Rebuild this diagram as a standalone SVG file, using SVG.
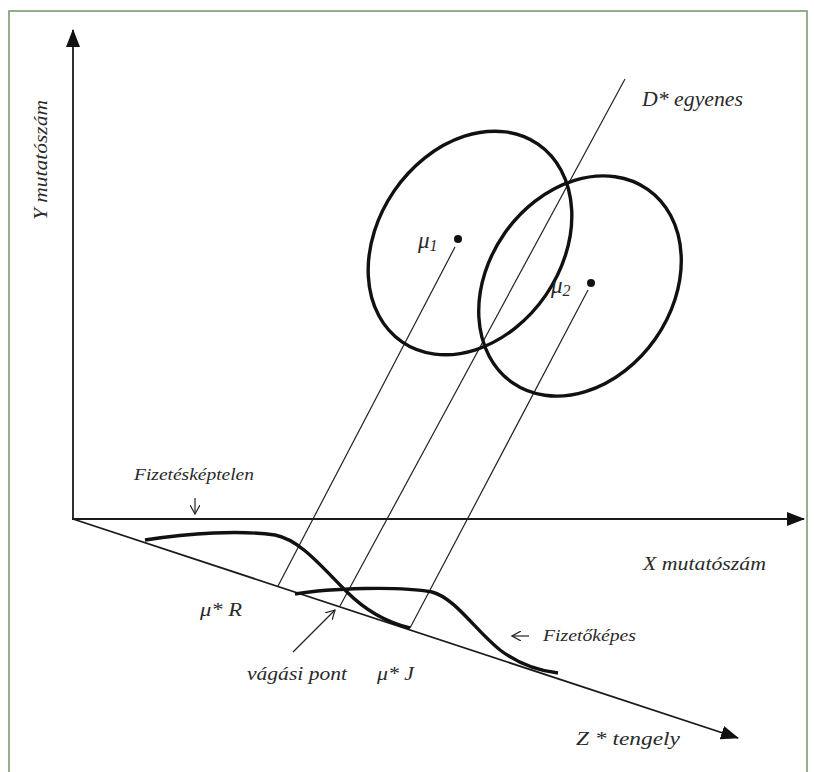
<svg xmlns="http://www.w3.org/2000/svg" width="814" height="772" viewBox="0 0 814 772">
<style>
.t{font-family:"Liberation Serif","Times New Roman",serif;font-style:italic;fill:#2a2a2a}
.thin{stroke:#222;stroke-width:1.2;fill:none}
.axis{stroke:#1a1a1a;stroke-width:1.8;fill:none}
.thick{stroke:#111;stroke-width:3.4;fill:none}
</style>
<defs>
<marker id="ah" markerWidth="18" markerHeight="14" refX="17" refY="7" orient="auto" markerUnits="userSpaceOnUse">
<path d="M0,0 L18,7 L0,14 Z" fill="#111"/>
</marker>
<marker id="oh" markerWidth="10" markerHeight="10" refX="9" refY="5" orient="auto" markerUnits="userSpaceOnUse">
<path d="M0,0 L9,5 L0,10" fill="none" stroke="#222" stroke-width="1.2"/>
</marker>
</defs>
<rect x="9" y="11" width="798" height="780" fill="#fff" stroke="#7d9a6e" stroke-width="1.6"/>

<g id="axes">
<line class="axis" x1="73" y1="519" x2="73" y2="30" marker-end="url(#ah)"/>
<line class="axis" x1="72" y1="519" x2="804" y2="519" marker-end="url(#ah)"/>
<line class="axis" x1="73" y1="519" x2="738" y2="738" marker-end="url(#ah)"/>
</g>

<g id="connectors">
<line class="thin" x1="625" y1="79" x2="340" y2="606"/>
<line class="thin" x1="455" y1="247" x2="278" y2="586"/>
<line class="thin" x1="588" y1="290" x2="410" y2="628"/>
<line class="thin" x1="293" y1="652" x2="335" y2="610" marker-end="url(#oh)"/>
<line class="thin" x1="195" y1="498" x2="195" y2="514" marker-end="url(#oh)"/>
<line class="thin" x1="529" y1="636" x2="512" y2="636" marker-end="url(#oh)"/>
</g>

<g id="ellipse1">
<ellipse class="thick" cx="470" cy="243" rx="120" ry="92" transform="rotate(-55.5 470 243)"/>
<circle cx="458" cy="239" r="4" fill="#111"/>
<text class="t" x="418" y="248" font-size="23">μ<tspan font-size="16" dy="3">1</tspan></text>
</g>

<g id="ellipse2">
<ellipse class="thick" cx="580" cy="286" rx="118" ry="92" transform="rotate(-55 580 286)"/>
<circle cx="591" cy="283" r="4" fill="#111"/>
<text class="t" x="551" y="293" font-size="23">μ<tspan font-size="16" dy="3">2</tspan></text>
</g>

<g id="curve-fizeteskeptelen">
<path class="thick" d="M145,540 C190,533 240,530 275,535 C300,540 320,565 347,592 C365,610 385,622 410,628"/>
</g>
<g id="curve-fizetokepes">
<path class="thick" d="M295,594 C330,588 400,586 432,592 C455,598 475,630 500,650 C520,665 540,671 558,673"/>
</g>

<g id="labels">
<text class="t" x="642" y="106" font-size="20" textLength="101" lengthAdjust="spacingAndGlyphs">D* egyenes</text>
<text class="t" transform="translate(47 220) rotate(-90)" font-size="19" textLength="120" lengthAdjust="spacingAndGlyphs">Y mutatószám</text>
<text class="t" x="643" y="570" font-size="19" textLength="123" lengthAdjust="spacingAndGlyphs">X mutatószám</text>
<text class="t" x="134" y="480" font-size="17" textLength="120" lengthAdjust="spacingAndGlyphs">Fizetésképtelen</text>
<text class="t" x="200" y="616" font-size="19" textLength="42" lengthAdjust="spacingAndGlyphs">μ* R</text>
<text class="t" x="543" y="641" font-size="17" textLength="93" lengthAdjust="spacingAndGlyphs">Fizetőképes</text>
<text class="t" x="247" y="680" font-size="19" textLength="100" lengthAdjust="spacingAndGlyphs">vágási pont</text>
<text class="t" x="377" y="680" font-size="19" textLength="37" lengthAdjust="spacingAndGlyphs">μ* J</text>
<text class="t" x="576" y="745" font-size="19" textLength="104" lengthAdjust="spacingAndGlyphs">Z *  tengely</text>
</g>
</svg>
